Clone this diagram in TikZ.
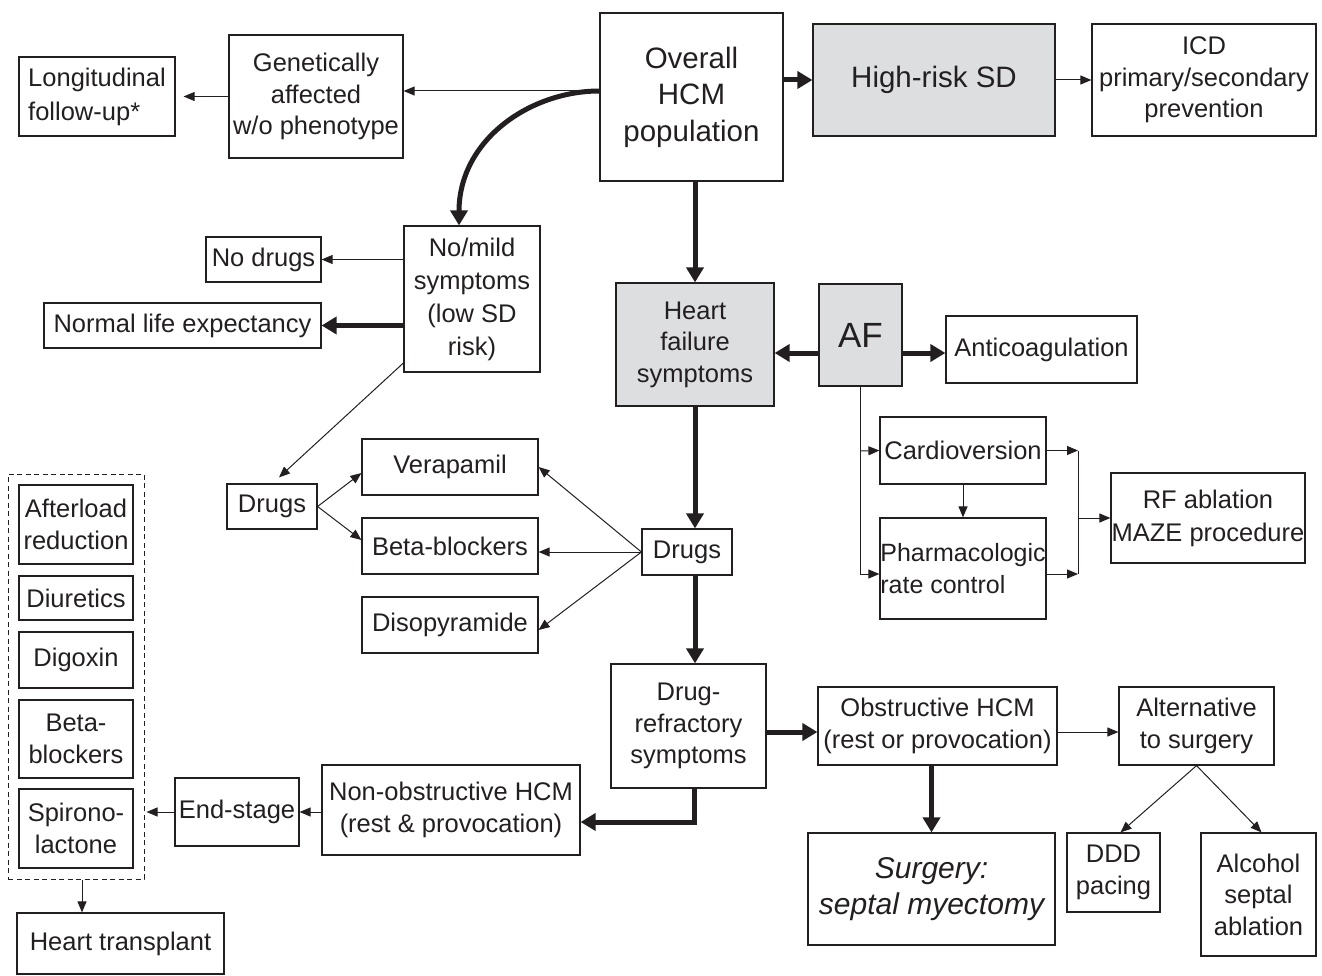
\documentclass[tikz,border=0pt]{standalone}
\usepackage{fontspec}
\setmainfont{Liberation Sans}
\usetikzlibrary{arrows.meta}
\definecolor{ink}{RGB}{35,31,32}
\definecolor{shade}{RGB}{221,222,224}

\begin{document}
\begin{tikzpicture}[x=1pt,y=-1pt,
  box/.style={draw=ink, line width=1.2pt, inner sep=0pt, align=center, text=ink,
              font=\fontsize{25.5}{31.5}\selectfont},
  shaded/.style={box, fill=shade},
  lite/.style={draw=ink, line width=1pt, -{Triangle[length=11pt,width=9pt]}},
  heavy/.style={draw=ink, line width=5pt, -{Triangle[length=15pt,width=17pt]}},
  plain/.style={draw=ink, line width=1pt},
  group/.style={draw=ink, line width=1pt, dash pattern=on 5pt off 3.5pt, inner sep=0pt}
]
\useasboundingbox (0,0) rectangle (1322,976);

% top row
\node[box, align=left, minimum width=156pt, minimum height=79pt, font=\fontsize{25.5}{34}\selectfont] (long) at (97,96.5) {Longitudinal\\follow-up*};
\node[box, minimum width=174pt, minimum height=123pt] (gen) at (316,96.5) {Genetically\\affected\\w/o phenotype};
\node[box, minimum width=183pt, minimum height=168pt, font=\fontsize{29.5}{36.5}\selectfont] (ov) at (691.5,97) {Overall\\HCM\\population};
\node[shaded, minimum width=242pt, minimum height=112pt, font=\fontsize{29.5}{35}\selectfont] (hr) at (934,80) {High-risk SD};
\node[box, minimum width=224pt, minimum height=112pt] (icd) at (1204,80) {ICD\\primary/secondary\\prevention};

% low-risk branch
\node[box, minimum width=115pt, minimum height=45pt] (nodrugs) at (263.5,259.5) {No drugs};
\node[box, minimum width=277pt, minimum height=45pt] (normal) at (182.5,325.5) {Normal life expectancy};
\node[box, minimum width=136pt, minimum height=146pt, font=\fontsize{25.5}{33}\selectfont] (nomild) at (472,299) {No/mild\\symptoms\\(low SD\\risk)};
\node[box, minimum width=90pt, minimum height=45pt] (drugsL) at (272,506.5) {Drugs};
\node[box, minimum width=176pt, minimum height=56pt] (verap) at (450,467) {Verapamil};
\node[box, minimum width=176pt, minimum height=56pt] (beta) at (450,546) {Beta-blockers};
\node[box, minimum width=176pt, minimum height=56pt] (diso) at (450,625) {Disopyramide};

% heart failure / AF
\node[shaded, minimum width=158pt, minimum height=123pt] (hf) at (695,344.5) {Heart\\failure\\symptoms};
\node[shaded, minimum width=83pt, minimum height=102pt, font=\fontsize{35}{40}\selectfont] (af) at (860.5,335) {AF};
\node[box, minimum width=191pt, minimum height=67pt] (anti) at (1041.5,349.5) {Anticoagulation};
\node[box, minimum width=166pt, minimum height=67pt] (cardio) at (963,450.5) {Cardioversion};
\node[box, align=left, minimum width=166pt, minimum height=101pt, font=\fontsize{25}{31.5}\selectfont] (pharm) at (963,568.5) {Pharmacologic\\rate control};
\node[box, minimum width=194pt, minimum height=90pt, font=\fontsize{25.5}{33}\selectfont] (rf) at (1208,518) {RF ablation\\MAZE procedure};
\node[box, minimum width=90pt, minimum height=46pt] (drugsC) at (687,552) {Drugs};

% refractory
\node[box, minimum width=155pt, minimum height=124pt] (drugref) at (688.5,726) {Drug-\\refractory\\symptoms};
\node[box, minimum width=239pt, minimum height=78pt] (obst) at (937.5,726) {Obstructive HCM\\(rest or provocation)};
\node[box, minimum width=155pt, minimum height=78pt] (alt) at (1196.5,726) {Alternative\\to surgery};
\node[box, minimum width=247pt, minimum height=112pt, font=\fontsize{30}{36}\selectfont\itshape] (surg) at (931.5,889) {Surgery:\\septal myectomy};
\node[box, minimum width=93pt, minimum height=79pt] (ddd) at (1113.5,872.5) {DDD\\pacing};
\node[box, minimum width=115pt, minimum height=123pt] (alc) at (1258.5,894.5) {Alcohol\\septal\\ablation};
\node[box, minimum width=258pt, minimum height=90pt] (nonobs) at (451,810) {Non-obstructive HCM\\(rest \& provocation)};
\node[box, minimum width=124pt, minimum height=68pt] (endst) at (237,812) {End-stage};

% end-stage therapies
\node[group, minimum width=136pt, minimum height=405pt] (grp) at (76,676.5) {};
\node[box, minimum width=114pt, minimum height=79pt] (afterload) at (76,524.5) {Afterload\\reduction};
\node[box, minimum width=114pt, minimum height=44pt] (diur) at (76,598) {Diuretics};
\node[box, minimum width=114pt, minimum height=56pt] (digox) at (76,660) {Digoxin};
\node[box, minimum width=114pt, minimum height=78pt] (betab) at (76,739) {Beta-\\blockers};
\node[box, minimum width=114pt, minimum height=79pt] (spiro) at (76,828.5) {Spirono-\\lactone};
\node[box, minimum width=207pt, minimum height=61pt] (transplant) at (120.5,943.5) {Heart transplant};

% junction points
\coordinate (afj) at (860,451);
\coordinate (rj) at (1078,518);

% connectors: top
\draw[lite] (ov.west |- 0,91) -- (gen.east |- 0,91);
\draw[lite] (gen.west |- long.east) -- ([xshift=8pt]long.east);
\draw[heavy] (ov.west |- 0,91) .. controls (530,91) and (459,140) .. (nomild.north -| 459,0);
\draw[heavy] (ov.east |- hr.west) -- (hr.west);
\draw[lite] (hr.east) -- (icd.west);
\draw[heavy] (hf.north |- ov.south) -- (hf.north);

% low-risk branch
\draw[lite] (nomild.west |- nodrugs.east) -- (nodrugs.east);
\draw[heavy] (nomild.west |- normal.east) -- (normal.east);
\draw[lite] (nomild.west |- 0,363) -- ([shift={(7,-6)}]drugsL.north);
\draw[lite] (drugsL.east) -- ([shift={(0,6)}]verap.west);
\draw[lite] (drugsL.east) -- ([shift={(0,-6)}]beta.west);

% AF
\draw[heavy] (af.west |- 0,353) -- (hf.east |- 0,353);
\draw[heavy] (af.east |- 0,353) -- (anti.west |- 0,353);
\draw[lite] (af.south -| afj) |- (pharm.west |- 0,574);
\draw[lite] (afj) -- (cardio.west);
\draw[lite] (cardio.south) -- (pharm.north);
\draw[lite] (cardio.east) -- (cardio.east -| rj);
\draw[lite] (pharm.east |- 0,574) -- (rj |- 0,574);
\draw[plain] (cardio.east -| rj) -- (rj |- 0,574);
\draw[lite] (rj) -- (rf.west);

% drugs
\draw[heavy] (hf.south) -- (hf.south |- drugsC.north);
\draw[lite] (drugsC.west) -- (verap.east);
\draw[lite] (drugsC.west) -- (beta.east |- drugsC.west);
\draw[lite] (drugsC.west) -- ([shift={(0,5)}]diso.east);
\draw[heavy] (hf.south |- drugsC.south) -- (hf.south |- drugref.north);

% refractory
\draw[heavy] (drugref.east |- 0,732) -- (obst.west |- 0,732);
\draw[lite] (obst.east |- 0,732) -- (alt.west |- 0,732);
\draw[heavy] (surg.north |- obst.south) -- (surg.north);
\draw[lite] (alt.south) -- ([xshift=7pt]ddd.north);
\draw[lite] (alt.south) -- ([xshift=3pt]alc.north);
\draw[heavy] (drugref.south -| 694,0) |- (nonobs.east |- 0,822);
\draw[lite] (nonobs.west |- endst.east) -- (endst.east);
\draw[lite] (endst.west) -- ([xshift=2pt]grp.east |- endst.west);
\draw[lite] (grp.south -| 82,0) -- (transplant.north -| 82,0);
\end{tikzpicture}
\end{document}
